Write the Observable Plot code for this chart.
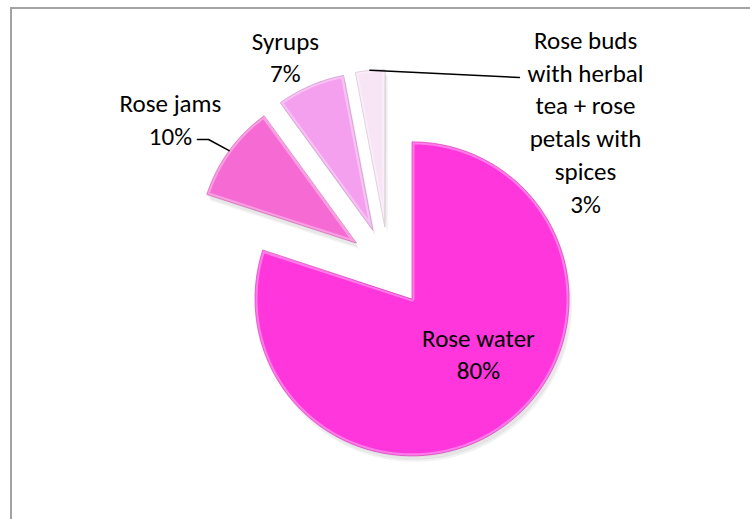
<!DOCTYPE html>
<html><head><meta charset="utf-8">
<script src="https://cdn.jsdelivr.net/npm/d3@7"></script>
<script src="https://cdn.jsdelivr.net/npm/@observablehq/plot@0.6"></script>
<style>
body{margin:0;background:#fff;}
#wrap{position:relative;width:750px;height:519px;overflow:hidden;background:#fff;}
#frame{position:absolute;left:10px;top:7px;width:800px;height:600px;border-left:2px solid #a3a3a3;border-top:2px solid #a3a3a3;box-sizing:border-box;}
#chart{position:absolute;left:0;top:0;}
</style></head><body>
<div id="wrap"><div id="frame"></div><div id="chart"></div></div>
<script>
// ---- data ----
const categories = ["Rose water", "Rose jams", "Syrups", "Rose buds with herbal tea + rose petals with spices"];
const labelLines = ["Rose water", "Rose jams", "Syrups", "Rose buds\nwith herbal\ntea + rose\npetals with\nspices"];
const shares = [80, 10, 7, 3];
const colors = ["#ff36dc", "#f66bd3", "#f4a0ef", "#f7e4f5"];

// ---- layout (pixels / pie units) ----
const W = 750, H = 519;
const CX = 388, CY = 266, R = 157;          // pie centre & radius in pixels
const EXPLODE = 40 / R;                      // explosion distance in pie units
const labelPos = [[0.573, -0.548], [-1.389, 0.946], [-0.657, 1.344], [1.255, 0.932]];
const leaderPts = [null, [[-1.146, 0.809], [-1.217, 0.809]], null, [[0.834, 1.204]]];

const pie = d3.pie().sort(null).value(d => d)(shares);
const slices = [];
const leaders = [];
pie.forEach((p, i) => {
  const mid = (p.startAngle + p.endAngle) / 2;
  const ox = EXPLODE * Math.sin(mid), oy = EXPLODE * Math.cos(mid);
  const name = categories[i];
  slices.push({name, x: ox, y: oy});
  const n = Math.max(4, Math.ceil((p.endAngle - p.startAngle) / (Math.PI / 180)));
  for (let k = 0; k <= n; k++) {
    const a = p.startAngle + (p.endAngle - p.startAngle) * k / n;
    slices.push({name, x: ox + Math.sin(a), y: oy + Math.cos(a)});
  }
  if (leaderPts[i]) {
    leaders.push({name, x: ox + Math.sin(mid), y: oy + Math.cos(mid)});
    leaderPts[i].forEach(([x, y]) => leaders.push({name, x, y}));
  }
});
const labels = categories.map((c, i) => ({
  name: c,
  text: labelLines[i] + "\n" + shares[i] + "%",
  x: labelPos[i][0], y: labelPos[i][1]
}));
const edgeColor = new Map(categories.map((c, i) => [c, d3.color(colors[i]).darker(0.5).formatHex()]));

const chart = Plot.plot({
  width: W, height: H,
  margin: 0,
  x: {domain: [-CX / R, (W - CX) / R], range: [0, W], axis: null},
  y: {domain: [-(H - CY) / R, CY / R], range: [H, 0], axis: null},
  color: {domain: categories, range: colors},
  style: {background: "transparent", overflow: "visible"},
  marks: [
    // soft shadow
    Plot.line(slices, {x: "x", y: "y", z: "name", fill: "#000", fillOpacity: 0.06, stroke: "none", dx: 1, dy: 2, curve: "linear-closed"}),
    Plot.line(slices, {x: "x", y: "y", z: "name", fill: "#000", fillOpacity: 0.06, stroke: "none", dx: 2, dy: 4, curve: "linear-closed"}),
    Plot.line(slices, {x: "x", y: "y", z: "name", fill: "#000", fillOpacity: 0.05, stroke: "none", dx: 3, dy: 6, curve: "linear-closed"}),
    // slices
    Plot.line(slices, {x: "x", y: "y", z: "name", fill: "name", stroke: "#ffffff", strokeOpacity: 0.35, strokeWidth: 5, curve: "linear-closed"}),
    Plot.line(slices, {x: "x", y: "y", z: "name", stroke: d => edgeColor.get(d.name), strokeWidth: 0.8, strokeOpacity: 0.8, curve: "linear-closed"}),
    // leaders and labels
    Plot.line(leaders, {x: "x", y: "y", z: "name", stroke: "#000", strokeWidth: 1.5}),
    Plot.text(labels, {x: "x", y: "y", text: "text", fontSize: 25, lineHeight: 1.31, fill: "#000",
      fontFamily: "Carlito, Calibri, Lato, sans-serif", textAnchor: "middle"})
  ]
});
document.getElementById("chart").appendChild(chart);
</script>
</body></html>
